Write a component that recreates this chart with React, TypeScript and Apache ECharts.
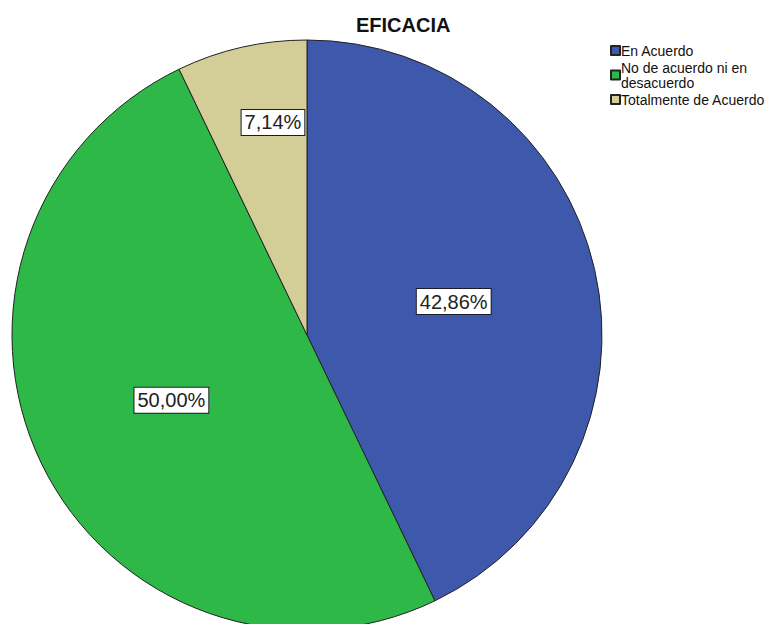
import React, { useEffect, useRef } from "react";
import * as echarts from "echarts";

const categories = ["En Acuerdo", "No de acuerdo ni en desacuerdo", "Totalmente de Acuerdo"];
const values = [42.86, 50.0, 7.14];
const colors = ["#3e58ac", "#2eb848", "#d3ce97"];
const titleText = "EFICACIA";

const FONT = "Arial, 'Liberation Sans', sans-serif";

export default function App() {
  const ref = useRef<HTMLDivElement>(null);
  useEffect(() => {
    if (!ref.current) return;
    const chart = echarts.init(ref.current, null, { renderer: "svg" });
    const labelStyle = {
      show: true,
      position: "inside",
      formatter: (p: any) => p.value.toFixed(2).replace(".", ",") + "%",
      fontFamily: FONT,
      fontSize: 20,
      lineHeight: 20,
      color: "#222",
      backgroundColor: "#ffffff",
      borderColor: "#1a1a2a",
      borderWidth: 1,
      padding: [3, 3, 2, 3],
    };
    const data1 = categories.map((name, i) => ({
      name,
      value: values[i],
      itemStyle: { color: colors[i] },
      label: i === 2 ? { show: false } : labelStyle,
    }));
    const data2 = categories.map((name, i) => ({
      name,
      value: values[i],
      itemStyle: { color: "rgba(0,0,0,0)", borderWidth: 0 },
      label: i === 2 ? labelStyle : { show: false },
    }));
    chart.setOption({
      animation: false,
      backgroundColor: "#ffffff",
      title: {
        text: titleText,
        left: 356,
        top: 15,
        padding: 0,
        textStyle: { fontFamily: FONT, fontSize: 20, fontWeight: "bold", color: "#111" },
      },
      legend: {
        orient: "vertical",
        left: 610,
        top: 43,
        padding: 0,
        itemWidth: 9,
        itemHeight: 9,
        itemGap: 2,
        icon: "rect",
        data: categories,
        formatter: (name: string) =>
          name === "No de acuerdo ni en desacuerdo" ? "No de acuerdo ni en\ndesacuerdo" : name,
        textStyle: { fontFamily: FONT, fontSize: 14, color: "#111", lineHeight: 15, padding: [0, 0, 0, -4] },
        selectedMode: false,
      },
      series: [
        {
          type: "pie",
          center: [307, 335],
          radius: [0, 295],
          startAngle: 90,
          clockwise: true,
          silent: true,
          itemStyle: { borderColor: "#222", borderWidth: 1 },
          labelLine: { show: false },
          data: data1,
        },
        {
          type: "pie",
          center: [307, 335],
          radius: [131, 295],
          startAngle: 90,
          clockwise: true,
          silent: true,
          labelLine: { show: false },
          labelLayout: { dx: 14, dy: -2 },
          data: data2,
          legendHoverLink: false,
        },
      ],
    });
    return () => chart.dispose();
  }, []);
  return (
    <div
      ref={ref}
      style={{ position: "absolute", left: 0, top: 0, width: 766, height: 624 }}
    />
  );
}
